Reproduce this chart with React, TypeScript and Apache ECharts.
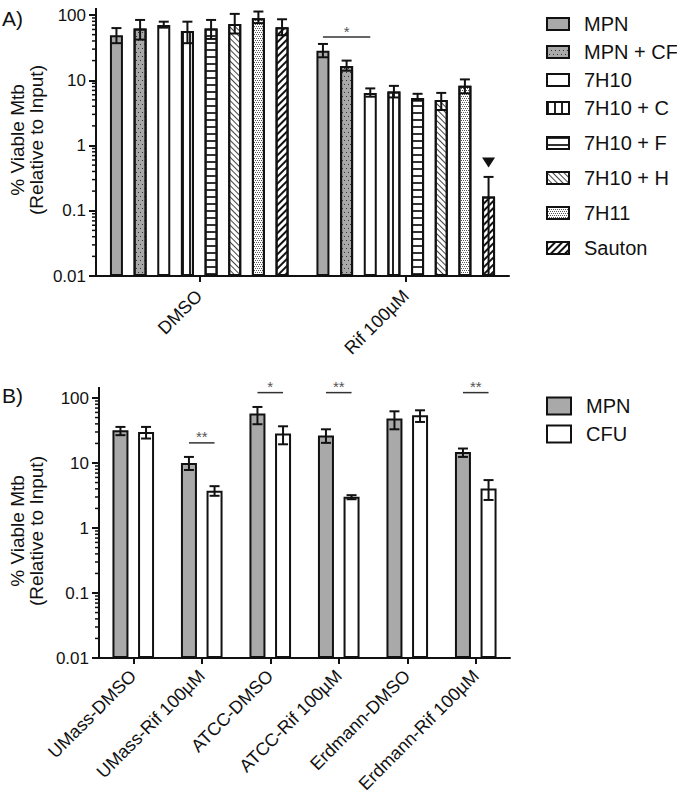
import React, { useEffect, useRef } from 'react';
import * as echarts from 'echarts';

const FONT = '"Liberation Sans", Arial, Helvetica, sans-serif';

// ---------- Panel A data ----------
const categoriesA = ['DMSO', 'Rif 100µM'];
const mediaA = ['MPN', 'MPN + CF', '7H10', '7H10 + C', '7H10 + F', '7H10 + H', '7H11', 'Sauton'];
const dmsoMeanA = [49, 62, 70, 57, 62, 73, 89, 65];
const dmsoLowA = [37, 42, 64, 37, 43, 52, 75, 49];
const dmsoHighA = [63, 84, 79, 79, 84, 104, 113, 86];
const rifMeanA = [28.4, 16.5, 6.4, 6.7, 5.35, 5.0, 8.2, 0.165];
const rifLowA = [22.5, 14, 5.6, 5.45, 4.86, 3.5, 6.3, 0.01];
const rifHighA = [36, 20, 7.5, 8.2, 6.2, 6.4, 10.3, 0.33];
// significance: [category, fromSeries, toSeries, y, label]
const sigCatA = [1];
const sigFromA = [0];
const sigToA = [2];
const sigYA = [46];
const sigLabelA = ['*'];
// marker (triangle) above Sauton / Rif
const markerCatA = [1];
const markerSeriesA = [7];
const markerYA = [0.55];

// ---------- Panel B data ----------
const categoriesB = ['UMass-DMSO', 'UMass-Rif 100µM', 'ATCC-DMSO', 'ATCC-Rif 100µM', 'Erdmann-DMSO', 'Erdmann-Rif 100µM'];
const seriesB = ['MPN', 'CFU'];
const mpnMeanB = [31.9, 10, 57.6, 26.5, 48.3, 14.7];
const mpnLowB = [26.8, 7.8, 39.5, 20.4, 33, 12.4];
const mpnHighB = [35.9, 12.4, 72.8, 33, 62.4, 16.7];
const cfuMeanB = [30, 3.74, 28.4, 3.02, 54.2, 4.06];
const cfuLowB = [23.8, 3.13, 19.4, 2.77, 42.8, 2.7];
const cfuHighB = [35.9, 4.4, 36.7, 3.2, 64.7, 5.46];
const sigCatB = [1, 2, 3, 5];
const sigYB = [20.4, 121, 121, 121];
const sigLabelB = ['**', '*', '**', '**'];

const minorTickValues = [0.02, 0.03, 0.04, 0.05, 0.06, 0.07, 0.08, 0.09, 0.2, 0.3, 0.4, 0.5, 0.6, 0.7, 0.8, 0.9, 2, 3, 4, 5, 6, 7, 8, 9, 20, 30, 40, 50, 60, 70, 80, 90];

const INK = '#111';
const GRAY = '#a9a9a9';

const decals: any[] = [
  null,
  { symbol: 'rect', symbolSize: 1, color: '#333', dashArrayX: [[1, 3], [0, 2, 1, 1]], dashArrayY: [1, 3] },
  null,
  { symbol: 'rect', symbolSize: 1, color: '#222', dashArrayX: [2, 5], dashArrayY: [1, 0] },
  { symbol: 'rect', symbolSize: 1, color: '#333', dashArrayX: [1, 0], dashArrayY: [2, 5] },
  { symbol: 'rect', symbolSize: 1, color: '#444', dashArrayX: [1, 0], dashArrayY: [1, 3], rotation: Math.PI / 4 },
  { symbol: 'rect', symbolSize: 1, color: '#555', dashArrayX: [[1, 1], [0, 1, 1, 0]], dashArrayY: [1, 1] },
  { symbol: 'rect', symbolSize: 1, color: '#111', dashArrayX: [1, 0], dashArrayY: [2, 3], rotation: -Math.PI / 4 },
];
const fillsA = [GRAY, GRAY, '#fff', '#fff', '#fff', '#fff', '#fff', '#fff'];

const BW_A = 13, GAP_A = 0.82;
const BW_B = 16, GAP_B = 0.6;

function errorRender(bw: number, gap: number, n: number) {
  return (params: any, api: any) => {
    const cat = api.value(0), si = api.value(1), lo = api.value(2), hi = api.value(3);
    const off = (si - (n - 1) / 2) * bw * (1 + gap);
    const pLo = api.coord([cat, lo]);
    const pHi = api.coord([cat, hi]);
    const x = pLo[0] + off;
    const st = { stroke: INK, lineWidth: 2 };
    const cap = 5;
    const children: any[] = [
      { type: 'line', shape: { x1: x, y1: pLo[1], x2: x, y2: pHi[1] }, style: st },
      { type: 'line', shape: { x1: x - cap, y1: pHi[1], x2: x + cap, y2: pHi[1] }, style: st },
    ];
    if (lo > 0.0100001) children.push({ type: 'line', shape: { x1: x - cap, y1: pLo[1], x2: x + cap, y2: pLo[1] }, style: st });
    return { type: 'group', children };
  };
}

function minorRender(ext: number) {
  return (params: any, api: any) => {
    const cs = params.coordSys;
    const y = api.coord([0, api.value(1)])[1];
    const children: any[] = [
      { type: 'line', shape: { x1: cs.x - 4, y1: y, x2: cs.x, y2: y }, style: { stroke: INK, lineWidth: 1.5 } },
    ];
    if (params.dataIndex === 0) {
      children.push({ type: 'line', shape: { x1: cs.x, y1: cs.y + 1, x2: cs.x, y2: cs.y - ext }, style: { stroke: INK, lineWidth: 2 } });
    }
    return { type: 'group', children };
  };
}

function sigRender(bw: number, gap: number, n: number, from: number[], to: number[], labels: string[]) {
  return (params: any, api: any) => {
    const i = params.dataIndex;
    const cat = api.value(0), yv = api.value(1);
    const p = api.coord([cat, yv]);
    const pitch = bw * (1 + gap);
    const x1 = p[0] + (from[i] - (n - 1) / 2) * pitch;
    const x2 = p[0] + (to[i] - (n - 1) / 2) * pitch;
    return {
      type: 'group',
      children: [
        { type: 'line', shape: { x1, y1: p[1], x2, y2: p[1] }, style: { stroke: '#333', lineWidth: 1.5 } },
        { type: 'text', x: (x1 + x2) / 2, y: p[1] - 6, style: { text: labels[i], font: `15px ${FONT}`, fill: '#555', align: 'center', verticalAlign: 'middle' } },
      ],
    };
  };
}

function markerRender(bw: number, gap: number, n: number, seriesIdx: number[]) {
  return (params: any, api: any) => {
    const i = params.dataIndex;
    const p = api.coord([api.value(0), api.value(1)]);
    const x = p[0] + (seriesIdx[i] - (n - 1) / 2) * bw * (1 + gap);
    const y = p[1];
    return { type: 'polygon', shape: { points: [[x - 6.5, y - 5], [x + 6.5, y - 5], [x, y + 5]] }, style: { fill: INK } };
  };
}

export default function App() {
  const ref = useRef<HTMLDivElement>(null);
  useEffect(() => {
    document.body.style.margin = '0';
    if (!ref.current) return;
    const chart = echarts.init(ref.current, undefined, { renderer: 'svg' });

    const yAxisCommon = (gridIndex: number) => ({
      type: 'log', logBase: 10, min: 0.01, max: 100, startValue: 0.01, gridIndex,
      axisLine: { show: true, lineStyle: { color: INK, width: 2 } },
      axisTick: { show: true, length: 7, lineStyle: { color: INK, width: 2 } },
      axisLabel: { fontSize: 17, fontFamily: FONT, color: INK, margin: 10, formatter: (v: number) => String(v) },
      splitLine: { show: false },
    });
    const xAxisCommon = (gridIndex: number, data: string[], margin: number) => ({
      type: 'category', data, gridIndex,
      axisLine: { show: true, lineStyle: { color: INK, width: 2 } },
      axisTick: { show: true, alignWithLabel: true, length: 6, lineStyle: { color: INK, width: 2 } },
      axisLabel: { rotate: 45, interval: 0, fontSize: 18, fontFamily: FONT, color: INK, margin },
    });

    const series: any[] = [];
    mediaA.forEach((name, i) => {
      const style: any = { color: fillsA[i], borderColor: INK, borderWidth: 2 };
      if (decals[i]) style.decal = decals[i];
      series.push({
        type: 'bar', name, xAxisIndex: 0, yAxisIndex: 0,
        data: [dmsoMeanA[i], rifMeanA[i]],
        barWidth: BW_A, barGap: `${GAP_A * 100}%`, itemStyle: style, z: 2,
      });
    });
    const errA: number[][] = [];
    mediaA.forEach((_, i) => errA.push([0, i, dmsoLowA[i], dmsoHighA[i]]));
    mediaA.forEach((_, i) => errA.push([1, i, rifLowA[i], rifHighA[i]]));
    series.push({ type: 'custom', xAxisIndex: 0, yAxisIndex: 0, data: errA, encode: { x: 0, y: [2, 3] }, renderItem: errorRender(BW_A, GAP_A, mediaA.length), clip: false, z: 5, silent: true });
    series.push({ type: 'custom', xAxisIndex: 0, yAxisIndex: 0, data: sigCatA.map((c, i) => [c, sigYA[i]]), encode: { x: 0, y: 1 }, renderItem: sigRender(BW_A, GAP_A, mediaA.length, sigFromA, sigToA, sigLabelA), clip: false, z: 5, silent: true });
    series.push({ type: 'custom', xAxisIndex: 0, yAxisIndex: 0, data: markerCatA.map((c, i) => [c, markerYA[i]]), encode: { x: 0, y: 1 }, renderItem: markerRender(BW_A, GAP_A, mediaA.length, markerSeriesA), clip: false, z: 5, silent: true });
    series.push({ type: 'custom', xAxisIndex: 0, yAxisIndex: 0, data: minorTickValues.map((v) => [0, v]), encode: { x: 0, y: 1 }, renderItem: minorRender(7), clip: false, z: 5, silent: true });

    const bMeans = [mpnMeanB, cfuMeanB];
    const bLows = [mpnLowB, cfuLowB];
    const bHighs = [mpnHighB, cfuHighB];
    seriesB.forEach((name, i) => {
      series.push({
        type: 'bar', name, xAxisIndex: 1, yAxisIndex: 1, data: bMeans[i],
        barWidth: BW_B, barGap: `${GAP_B * 100}%`,
        itemStyle: { color: i === 0 ? GRAY : '#fff', borderColor: INK, borderWidth: 2 }, z: 2,
      });
    });
    const errB: number[][] = [];
    categoriesB.forEach((_, c) => seriesB.forEach((__, i) => errB.push([c, i, bLows[i][c], bHighs[i][c]])));
    series.push({ type: 'custom', xAxisIndex: 1, yAxisIndex: 1, data: errB, encode: { x: 0, y: [2, 3] }, renderItem: errorRender(BW_B, GAP_B, 2), clip: false, z: 5, silent: true });
    series.push({ type: 'custom', xAxisIndex: 1, yAxisIndex: 1, data: sigCatB.map((c, i) => [c, sigYB[i]]), encode: { x: 0, y: 1 }, renderItem: sigRender(BW_B, GAP_B, 2, sigCatB.map(() => 0), sigCatB.map(() => 1), sigLabelB), clip: false, z: 5, silent: true });
    series.push({ type: 'custom', xAxisIndex: 1, yAxisIndex: 1, data: minorTickValues.map((v) => [0, v]), encode: { x: 0, y: 1 }, renderItem: minorRender(11), clip: false, z: 5, silent: true });

    const legendCommon = {
      orient: 'vertical', left: 541, icon: 'rect', selectedMode: false,
      textStyle: { fontSize: 20, fontFamily: FONT, color: INK, padding: [0, 0, 0, 10], lineHeight: 20 },
    };

    chart.setOption({
      animation: false,
      backgroundColor: '#fff',
      grid: [
        { left: 96, top: 15, width: 413, height: 261 },
        { left: 99, top: 398, width: 411, height: 260 },
      ],
      xAxis: [xAxisCommon(0, categoriesA, 17), xAxisCommon(1, categoriesB, 15)],
      yAxis: [yAxisCommon(0), yAxisCommon(1)],
      legend: [
        { ...legendCommon, data: mediaA.slice(0, 4), top: 9, itemWidth: 22, itemHeight: 12, itemGap: 8 },
        { ...legendCommon, data: mediaA.slice(4), top: 128, itemWidth: 22, itemHeight: 12, itemGap: 15 },
        { ...legendCommon, data: seriesB, top: 391, itemWidth: 24, itemHeight: 17, itemGap: 8 },
      ],
      graphic: [
        { type: 'text', left: 2, top: 8, style: { text: 'A)', font: `21px ${FONT}`, fill: INK } },
        { type: 'text', left: 2, top: 385, style: { text: 'B)', font: `21px ${FONT}`, fill: INK } },
        { type: 'text', x: 27, y: 140, rotation: Math.PI / 2, style: { text: '% Viable Mtb\n(Relative to Input)', font: `19px ${FONT}`, fill: INK, align: 'center', verticalAlign: 'middle', lineHeight: 19 } },
        { type: 'text', x: 27, y: 531, rotation: Math.PI / 2, style: { text: '% Viable Mtb\n(Relative to Input)', font: `19px ${FONT}`, fill: INK, align: 'center', verticalAlign: 'middle', lineHeight: 19 } },
      ],
      series,
    });
    return () => chart.dispose();
  }, []);
  return <div ref={ref} style={{ width: 677, height: 798 }} />;
}
